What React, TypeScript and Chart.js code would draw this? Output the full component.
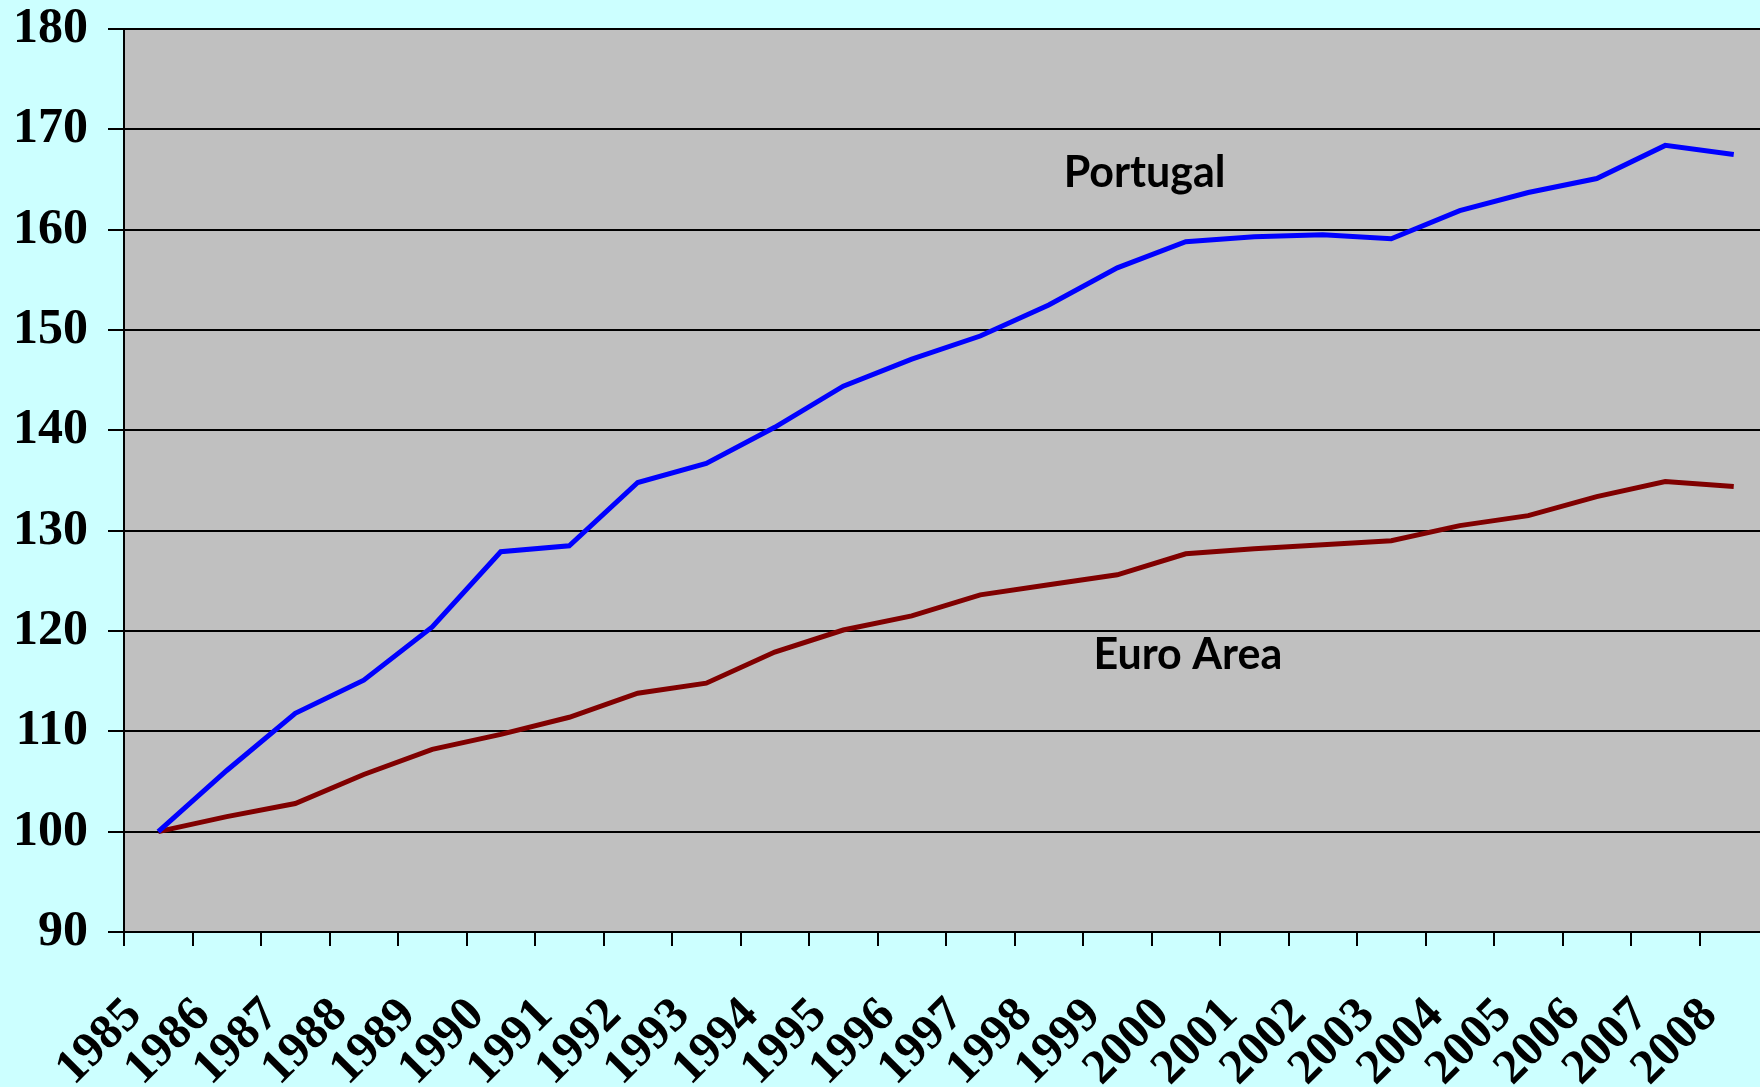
import React, { useEffect, useRef } from "react";
import { Chart, registerables } from "chart.js";

Chart.register(...registerables);

const years = [
  "1985", "1986", "1987", "1988", "1989", "1990", "1991", "1992",
  "1993", "1994", "1995", "1996", "1997", "1998", "1999", "2000",
  "2001", "2002", "2003", "2004", "2005", "2006", "2007", "2008",
];

const portugal = [
  100, 106.1, 111.8, 115.1, 120.4, 127.9, 128.5, 134.8,
  136.7, 140.3, 144.4, 147.1, 149.4, 152.5, 156.2, 158.8,
  159.3, 159.5, 159.1, 161.9, 163.7, 165.1, 168.4, 167.5,
];

const euroArea = [
  100, 101.5, 102.8, 105.7, 108.2, 109.7, 111.4, 113.8,
  114.8, 117.9, 120.1, 121.5, 123.6, 124.6, 125.6, 127.7,
  128.2, 128.6, 129.0, 130.5, 131.5, 133.4, 134.9, 134.4,
];

const seriesNames = ["Portugal", "Euro Area"];
const yMin = 90;
const yMax = 180;
const yStep = 10;

export default function App() {
  const canvasRef = useRef<HTMLCanvasElement | null>(null);

  useEffect(() => {
    const canvas = canvasRef.current;
    if (!canvas) return;

    const backgroundPlugin = {
      id: "bgPlugin",
      beforeDraw(chart: any) {
        const { ctx, chartArea } = chart;
        ctx.save();
        ctx.fillStyle = "#CCFFFF";
        ctx.fillRect(0, 0, chart.width, chart.height);
        ctx.fillStyle = "#C0C0C0";
        ctx.fillRect(chartArea.left, chartArea.top, chartArea.right - chartArea.left, chartArea.bottom - chartArea.top);
        ctx.restore();
      },
    };

    const labelPlugin = {
      id: "seriesLabels",
      afterDatasetsDraw(chart: any) {
        const { ctx } = chart;
        const xs = chart.scales.x;
        const ys = chart.scales.y;
        ctx.save();
        ctx.fillStyle = "#000000";
        ctx.font = "bold 43px Lato";
        ctx.textAlign = "center";
        ctx.textBaseline = "middle";
        ctx.fillText(seriesNames[0], xs.getPixelForValue(14.4), ys.getPixelForValue(165.6));
        ctx.fillText(seriesNames[1], xs.getPixelForValue(15.03), ys.getPixelForValue(117.6));
        ctx.restore();
      },
    };

    const tickFont = { family: "'Liberation Serif', 'Times New Roman', serif", size: 49, weight: "bold" };

    const chart = new Chart(canvas, {
      type: "line",
      data: {
        labels: years,
        datasets: [
          {
            label: seriesNames[0],
            data: portugal,
            borderColor: "#0000FF",
            backgroundColor: "#0000FF",
            borderWidth: 5,
            pointRadius: 0,
            tension: 0,
          },
          {
            label: seriesNames[1],
            data: euroArea,
            borderColor: "#800000",
            backgroundColor: "#800000",
            borderWidth: 5,
            pointRadius: 0,
            tension: 0,
          },
        ],
      },
      options: {
        animation: false,
        responsive: false,
        devicePixelRatio: 1,
        layout: { padding: { top: 29, right: 0, bottom: 0, left: 0 } },
        plugins: {
          legend: { display: false },
          tooltip: { enabled: false },
          title: { display: false },
        },
        scales: {
          x: {
            type: "category",
            offset: true,
            grid: {
              offset: true,
              drawOnChartArea: false,
              drawTicks: true,
              tickLength: 14,
              color: "#000000",
              lineWidth: 2,
            },
            border: { display: true, color: "#000000", width: 2 },
            ticks: {
              autoSkip: false,
              minRotation: 45,
              maxRotation: 45,
              padding: 41,
              labelOffset: -24,
              color: "#000000",
              font: tickFont,
            },
            afterFit(scale: any) {
              scale.height = 155;
              scale.paddingLeft = 0;
              scale.paddingRight = 0;
            },
          },
          y: {
            min: yMin,
            max: yMax,
            grid: {
              color: "#000000",
              lineWidth: 2,
              drawTicks: true,
              tickLength: 16,
            },
            border: { display: true, color: "#000000", width: 2 },
            ticks: {
              stepSize: yStep,
              padding: 20,
              color: "#000000",
              font: { ...tickFont, size: 50 },
            },
            afterFit(scale: any) {
              scale.width = 124;
              scale.paddingTop = 0;
              scale.paddingBottom = 0;
            },
          },
        },
      } as any,
      plugins: [backgroundPlugin, labelPlugin],
    });

    return () => {
      chart.destroy();
    };
  }, []);

  return (
    <div
      style={{
        position: "fixed",
        left: 0,
        top: 0,
        width: 1760,
        height: 1087,
        overflow: "hidden",
        background: "#CCFFFF",
      }}
    >
      <canvas ref={canvasRef} width={1768} height={1087} style={{ display: "block", width: 1768, height: 1087 }} />
    </div>
  );
}
